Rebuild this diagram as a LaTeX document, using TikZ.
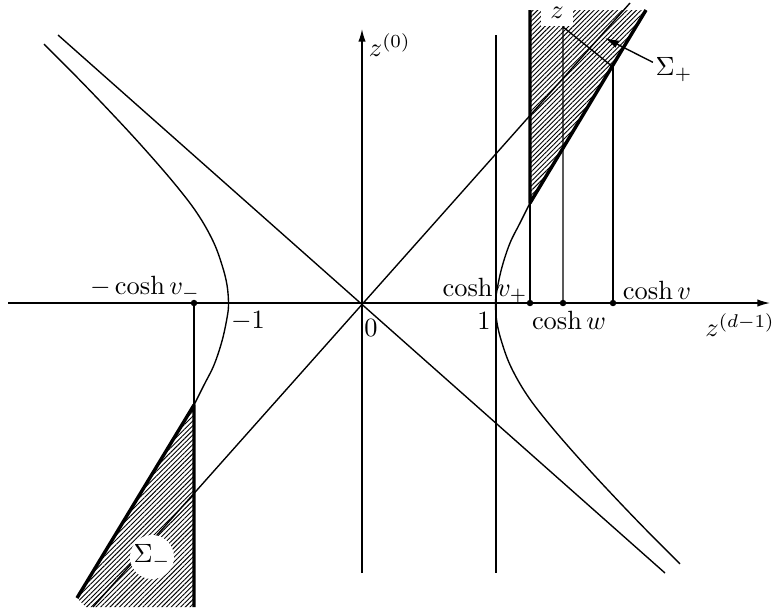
\documentclass[tikz,border=0pt]{standalone}
\usetikzlibrary{arrows.meta,patterns.meta}
\begin{document}
\begin{tikzpicture}[x=0.379pt,y=-0.379pt,
  thinline/.style={line width=0.52pt},
  thickline/.style={line width=1.3pt,line join=round},
  hatch/.style={pattern={Lines[angle=45,distance=1.26pt,line width=0.35pt]}},
  dot/.style={circle,fill=black,inner sep=0pt,minimum size=2.45pt},
  lab/.style={inner sep=0.87pt},
  axisarrow/.style={-{Latex[length=4.8pt,width=2.8pt]}},
]
\useasboundingbox (0,0) rectangle (773,609);
\coordinate (O) at (362,304);

% hatched regions
\path[hatch] (530,203) -- (646,10) -- (530,10) -- cycle;
\path[hatch] (194,405) -- (77,598) -- (86,607) -- (194,607) -- cycle;

% axes
\draw[thinline,axisarrow] (8,303) -- (770,303);
\draw[thinline,axisarrow] (362,573) -- (362,29);

% light-cone lines
\draw[thinline] (58,35) -- (665,573);
\draw[thinline] (93,607) -- (630,3);

% vertical line at 1
\draw[thinline] (496,35) -- (496,573);

% hyperbola, right branch and its point reflection
\draw[thinline] plot[smooth,tension=0.6] coordinates {(530,203) (520,223) (510,243) (502,267) (497,290) (495.5,304) (497,323) (502,343) (511,367) (527,395) (550,425) (582.5,462.4) (615,497.5) (647.5,531.3) (680,563.8)};
\begin{scope}[rotate around={180:(O)}]
\draw[thinline] plot[smooth,tension=0.6] coordinates {(530,203) (520,223) (510,243) (502,267) (497,290) (495.5,304) (497,323) (502,343) (511,367) (527,395) (550,425) (582.5,462.4) (615,497.5) (647.5,531.3) (680,563.8)};
\end{scope}

% verticals
\draw[thinline] (530,303) -- (530,203);
\draw[thickline] (530,10) -- (530,203) -- (646,10);
\draw[thinline] (563,303) -- (563,27) -- (613,67);
\draw[thinline] (613,303) -- (613,67);
\draw[thinline] (194,303) -- (194,405);
\draw[thickline] (194,607) -- (194,405) -- (77,598);

% dots
\node[dot] (d1) at (194,303) {};
\node[dot] (d2) at (530,303) {};
\node[dot] (d3) at (563,303) {};
\node[dot] (d4) at (613,303) {};

% Sigma labels
\node[lab] (sp) at (674,70) {$\Sigma_+$};
\coordinate (sptip) at (605,38);
\draw[thinline,-{Latex[length=5.2pt,width=3.05pt]}] (sp.160) -- (sptip);
\node[fill=white,minimum width=12.2pt,minimum height=9.6pt,inner sep=0pt] (zl) at (557,13) {$z$};
\node[circle,fill=white,minimum size=16.5pt,inner sep=0pt] (sm) at (152,557) {$\Sigma_-$};

% other labels
\node[lab,anchor=west] (z0) at (366,45) {$z^{(0)}$};
\node[lab] (zd) at (740,325) {$z^{(d-1)}$};
\node[lab] (n0) at (371,328) {$0$};
\node[lab] (n1) at (484,321) {$1$};
\node[lab] (nm1) at (248,321) {$-1$};
\node[lab] (cvm) at (145,288) {$-\cosh v_-$};
\node[lab] (cvp) at (485,290) {$\cosh v_+$};
\node[lab] (cv) at (657,290) {$\cosh v$};
\node[lab] (cw) at (569,320) {$\cosh w$};
\end{tikzpicture}
\end{document}
